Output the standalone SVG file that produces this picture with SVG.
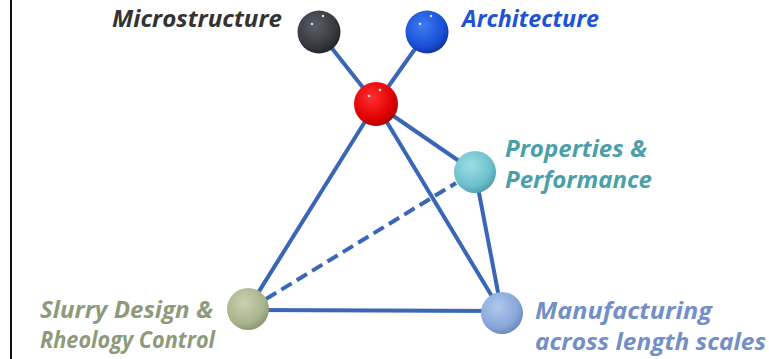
<svg xmlns="http://www.w3.org/2000/svg" width="769" height="359" viewBox="0 0 769 359">
<style>
.lbl{font-family:"Open Sans","Liberation Sans",sans-serif;font-weight:bold;font-style:italic;font-size:24px}
.edge{stroke:#3a66b8;stroke-width:4;fill:none;stroke-linecap:round}
.dash{stroke-dasharray:12 6;stroke-linecap:butt}
.hl{fill:#fff;opacity:0.85}
</style>
<defs>
<radialGradient id="gGray" cx="0.4" cy="0.35" r="0.7"><stop offset="0" stop-color="#5a5e66"/><stop offset="0.7" stop-color="#36393e"/><stop offset="1" stop-color="#1e2024"/></radialGradient>
<radialGradient id="gBlue" cx="0.4" cy="0.35" r="0.7"><stop offset="0" stop-color="#3d7cf5"/><stop offset="0.7" stop-color="#1a4fd6"/><stop offset="1" stop-color="#0d2f99"/></radialGradient>
<radialGradient id="gRed" cx="0.4" cy="0.35" r="0.7"><stop offset="0" stop-color="#ff3030"/><stop offset="0.7" stop-color="#e00000"/><stop offset="1" stop-color="#a00000"/></radialGradient>
<radialGradient id="gCyan" cx="0.4" cy="0.35" r="0.7"><stop offset="0" stop-color="#9fdde6"/><stop offset="0.7" stop-color="#6ac0cc"/><stop offset="1" stop-color="#4a9aa6"/></radialGradient>
<radialGradient id="gOlive" cx="0.4" cy="0.35" r="0.7"><stop offset="0" stop-color="#c8d2b0"/><stop offset="0.7" stop-color="#a8b48c"/><stop offset="1" stop-color="#84906c"/></radialGradient>
<radialGradient id="gSteel" cx="0.4" cy="0.35" r="0.7"><stop offset="0" stop-color="#b0c8ee"/><stop offset="0.7" stop-color="#88a6d8"/><stop offset="1" stop-color="#6684b8"/></radialGradient>
</defs>
<rect width="769" height="359" fill="#ffffff"/>
<line x1="11" y1="0" x2="11" y2="359" stroke="#111" stroke-width="2"/>
<g id="connectors">
<line class="edge" x1="319" y1="32" x2="376" y2="104"/>
<line class="edge" x1="427" y1="32" x2="376" y2="104"/>
<line class="edge" x1="376" y1="104" x2="248" y2="309"/>
<line class="edge" x1="376" y1="104" x2="502" y2="313"/>
<line class="edge" x1="376" y1="104" x2="475" y2="172"/>
<line class="edge" x1="475" y1="172" x2="502" y2="313"/>
<line class="edge dash" x1="266" y1="299" x2="456" y2="183"/>
<line class="edge" x1="248" y1="310" x2="502" y2="311"/>
</g>
<g id="microstructure">
<circle cx="319" cy="32" r="21.5" fill="url(#gGray)"/>
<circle class="hl" cx="312" cy="24" r="1.2"/><circle class="hl" cx="323" cy="16" r="1.2"/>
<text class="lbl" x="112" y="27" fill="#333333" textLength="170" lengthAdjust="spacingAndGlyphs">Microstructure</text>
</g>
<g id="architecture">
<circle cx="427" cy="32" r="21.5" fill="url(#gBlue)"/>
<circle class="hl" cx="420" cy="24" r="1.2"/><circle class="hl" cx="431" cy="16" r="1.2"/>
<text class="lbl" x="462" y="27" fill="#2052d8" textLength="137" lengthAdjust="spacingAndGlyphs">Architecture</text>
</g>
<g id="center">
<circle cx="376" cy="104" r="22" fill="url(#gRed)"/>
<circle class="hl" cx="369" cy="96" r="1.3"/><circle class="hl" cx="380" cy="90" r="1.3"/>
</g>
<g id="properties">
<circle cx="475" cy="172" r="21" fill="url(#gCyan)"/>
<text class="lbl" x="505" y="157" fill="#4aa0aa" textLength="142" lengthAdjust="spacingAndGlyphs">Properties &amp;</text>
<text class="lbl" x="505" y="188" fill="#4aa0aa" textLength="147" lengthAdjust="spacingAndGlyphs">Performance</text>
</g>
<g id="slurry">
<circle cx="248" cy="309" r="21" fill="url(#gOlive)"/>
<text class="lbl" x="40" y="318" fill="#8f9a7b" textLength="173" lengthAdjust="spacingAndGlyphs">Slurry Design &amp;</text>
<text class="lbl" x="40" y="348" fill="#8f9a7b" textLength="175" lengthAdjust="spacingAndGlyphs">Rheology Control</text>
</g>
<g id="manufacturing">
<circle cx="502" cy="313" r="21" fill="url(#gSteel)"/>
<text class="lbl" x="535" y="319" fill="#7290c6" textLength="177" lengthAdjust="spacingAndGlyphs">Manufacturing</text>
<text class="lbl" x="535" y="350" fill="#7290c6" textLength="231" lengthAdjust="spacingAndGlyphs">across length scales</text>
</g>
</svg>
